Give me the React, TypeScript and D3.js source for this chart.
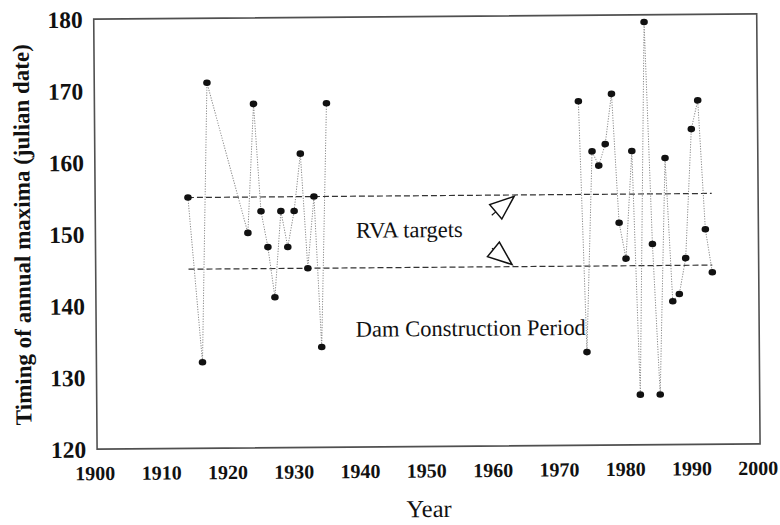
import React from "react";
import * as d3 from "d3";

// annual maxima timing, pre-dam record
const earlyYears = [1914, 1916, 1917, 1923, 1924, 1925, 1926, 1927, 1928, 1929, 1930, 1931, 1932, 1933, 1934, 1935];
const earlyValues = [155, 132, 171, 150, 168, 153, 148, 141, 153, 148, 153, 161, 145, 155, 134, 168];

// post-dam record
const lateYears = [1973, 1974, 1975, 1976, 1977, 1978, 1979, 1980, 1981, 1982, 1983, 1984, 1985, 1986, 1987, 1988, 1989, 1990, 1991, 1992, 1993];
const lateValues = [168, 133, 161, 159, 162, 169, 151, 146, 161, 127, 179, 148, 127, 160, 140, 141, 146, 164, 168, 150, 144];

const xTicks = [1900, 1910, 1920, 1930, 1940, 1950, 1960, 1970, 1980, 1990, 2000];
const yTicks = [120, 130, 140, 150, 160, 170, 180];

const rvaTargets = [145, 155];
const rvaSpan = [1914, 1993];

// arrows pointing at the target lines: [tailYear, tailValue, tipYear, tipValue]
const rvaArrows = [
  [1959.8, 152.2, 1963.2, 154.8],
  [1959.8, 147.6, 1962.8, 145.3],
];

const FONT = "'Liberation Serif', 'Times New Roman', serif";

const App: React.FC = () => {
  const svgRef = React.useRef<SVGSVGElement>(null);

  React.useEffect(() => {
    if (!svgRef.current) return;
    const svg = d3.select(svgRef.current);
    svg.selectAll("*").remove();

    const box = { left: 95.4, right: 758.4, top: 16.5, bottom: 446.5 };
    const cx = (box.left + box.right) / 2;
    const cy = (box.top + box.bottom) / 2;

    const x = d3.scaleLinear().domain([1900, 2000]).range([box.left, box.right]);
    const y = d3.scaleLinear().domain([120, 180]).range([box.bottom, box.top]);

    // the scanned figure sits slightly tilted
    const g = svg
      .append("g")
      .attr("transform", `rotate(-0.45, ${cx}, ${cy})`)
      .style("font-family", FONT);

    // frame
    g.append("rect")
      .attr("x", box.left)
      .attr("y", box.top)
      .attr("width", box.right - box.left)
      .attr("height", box.bottom - box.top)
      .attr("fill", "none")
      .attr("stroke", "#505050")
      .attr("stroke-width", 1.6);

    // x axis labels
    const xAxis = g
      .append("g")
      .attr("transform", `translate(0,${box.bottom})`)
      .call(d3.axisBottom(x).tickValues(xTicks).tickSize(0).tickFormat(d3.format("d")));
    xAxis.select(".domain").remove();
    xAxis
      .selectAll("text")
      .attr("y", 31)
      .attr("dy", null)
      .attr("dx", -2.5)
      .style("font-family", FONT)
      .style("font-size", "20px")
      .style("font-weight", "bold")
      .style("fill", "#111");

    // y axis labels
    const yAxis = g
      .append("g")
      .attr("transform", `translate(${box.left},0)`)
      .call(d3.axisLeft(y).tickValues(yTicks).tickSize(0).tickPadding(11));
    yAxis.select(".domain").remove();
    yAxis
      .selectAll("text")
      .attr("dy", "0.34em")
      .style("font-family", FONT)
      .style("font-size", "23.5px")
      .style("font-weight", "bold")
      .style("fill", "#111");

    // axis titles
    g.append("text")
      .attr("transform", `translate(30,${cy}) rotate(-90)`)
      .attr("text-anchor", "middle")
      .style("font-size", "23px")
      .style("font-weight", "bold")
      .style("fill", "#111")
      .text("Timing of annual maxima (julian date)");

    g.append("text")
      .attr("x", cx)
      .attr("y", 517)
      .attr("text-anchor", "middle")
      .style("font-size", "24.5px")
      .style("fill", "#111")
      .text("Year");

    // RVA target lines
    rvaTargets.forEach(v => {
      g.append("line")
        .attr("x1", x(rvaSpan[0]))
        .attr("x2", x(rvaSpan[1]))
        .attr("y1", y(v))
        .attr("y2", y(v))
        .attr("stroke", "#333")
        .attr("stroke-width", 1.2)
        .attr("stroke-dasharray", "6,3");
    });

    // series lines
    const line = d3
      .line<[number, number]>()
      .x(d => x(d[0]))
      .y(d => y(d[1]));
    const series: [number, number][][] = [
      earlyYears.map((yr, i) => [yr, earlyValues[i]]),
      lateYears.map((yr, i) => [yr, lateValues[i]]),
    ];
    series.forEach(s => {
      g.append("path")
        .datum(s)
        .attr("fill", "none")
        .attr("stroke", "#8a8a8a")
        .attr("stroke-width", 1)
        .attr("stroke-dasharray", "1.2,1.4")
        .attr("d", line);
    });
    series.forEach(s => {
      g.append("g")
        .selectAll("ellipse")
        .data(s)
        .join("ellipse")
        .attr("cx", d => x(d[0]))
        .attr("cy", d => y(d[1]))
        .attr("rx", 3.8)
        .attr("ry", 3.3)
        .attr("fill", "#111");
    });

    // annotation arrows with open heads
    rvaArrows.forEach(([tx, tv, hx, hv]) => {
      const x0 = x(tx), y0 = y(tv), x1 = x(hx), y1 = y(hv);
      const ang = Math.atan2(y1 - y0, x1 - x0);
      const len = 24, half = 9.4;
      const bx = x1 - len * Math.cos(ang);
      const by = y1 - len * Math.sin(ang);
      const px = -Math.sin(ang) * half;
      const py = Math.cos(ang) * half;
      g.append("line")
        .attr("x1", x0)
        .attr("y1", y0)
        .attr("x2", bx)
        .attr("y2", by)
        .attr("stroke", "#111")
        .attr("stroke-width", 1.2);
      g.append("path")
        .attr("d", `M${x1},${y1}L${bx + px},${by + py}L${bx - px},${by - py}Z`)
        .attr("fill", "#fff")
        .attr("stroke", "#111")
        .attr("stroke-width", 1.5)
        .attr("stroke-linejoin", "miter");
    });

    // text annotations
    g.append("text")
      .attr("x", x(1939.3))
      .attr("y", y(149.2))
      .style("font-size", "22.5px")
      .style("fill", "#111")
      .text("RVA targets");

    g.append("text")
      .attr("x", x(1939.15))
      .attr("y", y(135.4))
      .style("font-size", "22.5px")
      .style("fill", "#111")
      .text("Dam Construction Period");
  }, []);

  return (
    <svg
      ref={svgRef}
      width={780}
      height={525}
      style={{ position: "absolute", left: 0, top: 0, background: "#fff" }}
    />
  );
};

export default App;
